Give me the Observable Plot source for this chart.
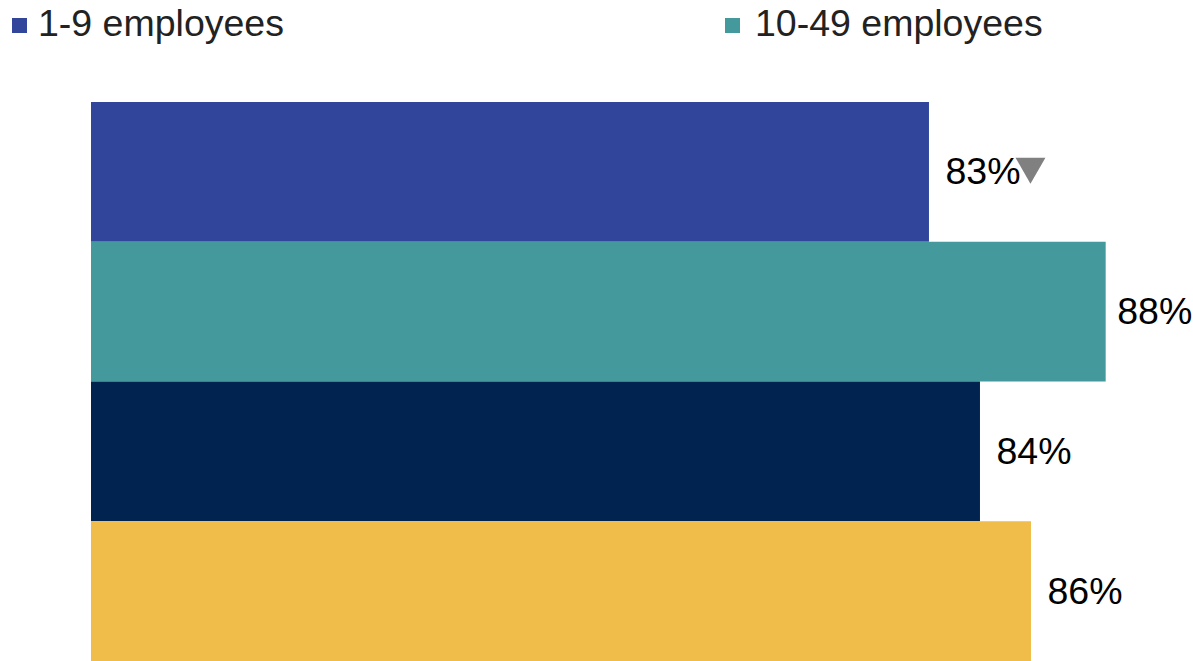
<!DOCTYPE html>
<html>
<head>
<meta charset="utf-8">
<script src="https://cdn.jsdelivr.net/npm/d3@7"></script>
<script src="https://cdn.jsdelivr.net/npm/@observablehq/plot@0.6"></script>
<style>
  html, body { margin: 0; padding: 0; background: #fff; }
  body { font-family: "Liberation Sans", Arial, sans-serif; width: 1193px; }
  #legend { position: relative; height: 50px; }
  .item { position: absolute; top: 5px; font-size: 37.5px; line-height: 1; color: #222; white-space: nowrap; }
  .sw { position: absolute; top: 18px; width: 15px; height: 15px; }
  #chart svg { display: block; }
</style>
</head>
<body>
<div id="legend"></div>
<div id="chart"></div>
<script>
// Data
const categories = ["1-9 employees", "10-49 employees", "50-249 employees", "250+ employees"];
const values = [83.0, 87.85, 84.4, 85.8];          // (axis starts at 60%)
const labels = ["83%", "88%", "84%", "86%"];
const significance = ["down", null, null, null];   // grey ▼ marker
const colors = ["#31469b", "#43999b", "#00234f", "#f0bd4a"];
const legendItems = ["1-9 employees", "10-49 employees"];
const legendSwatchLeft = [12, 725];
const legendTextLeft = [38, 755];

const data = categories.map((c, i) => ({category: c, value: values[i], label: labels[i], sig: significance[i]}));

// Legend (HTML, above the SVG)
const legend = document.getElementById("legend");
legendItems.forEach((name, i) => {
  const sw = document.createElement("div");
  sw.className = "sw";
  sw.style.left = legendSwatchLeft[i] + "px";
  sw.style.background = colors[categories.indexOf(name)];
  legend.appendChild(sw);
  const t = document.createElement("div");
  t.className = "item";
  t.style.left = legendTextLeft[i] + "px";
  t.textContent = name;
  legend.appendChild(t);
});

const downTriangle = {
  draw(ctx, size) {
    const y = Math.sqrt(size / (Math.sqrt(3) * 3));
    ctx.moveTo(0, 2 * y);
    ctx.lineTo(-Math.sqrt(3) * y, -y);
    ctx.lineTo(Math.sqrt(3) * y, -y);
    ctx.closePath();
  }
};

const chart = Plot.plot({
  width: 1193,
  height: 611,
  marginTop: 52,
  marginBottom: 0,
  marginLeft: 91,
  marginRight: 9,
  style: {fontFamily: '"Liberation Sans", Arial, sans-serif', background: "#fff"},
  x: {domain: [60, 90], axis: null},
  y: {domain: categories, padding: 0, round: false, axis: null},
  color: {domain: categories, range: colors},
  marks: [
    Plot.barX(data, {x1: 60, x2: "value", y: "category", fill: "category"}),
    Plot.text(data, {filter: d => d.value < 87.5, x: "value", y: "category", text: "label", textAnchor: "start", dx: 16, fontSize: 37.5, fill: "#000"}),
    Plot.text(data, {filter: d => d.value >= 87.5, x: "value", y: "category", text: "label", textAnchor: "start", dx: 11, fontSize: 37.5, fill: "#000"}),
    Plot.dot(data, {filter: d => d.sig === "down", x: "value", y: "category", symbol: downTriangle, r: 11.1, dx: 101, dy: -6, fill: "#808080", stroke: null})
  ]
});
document.getElementById("chart").appendChild(chart);
</script>
</body>
</html>
